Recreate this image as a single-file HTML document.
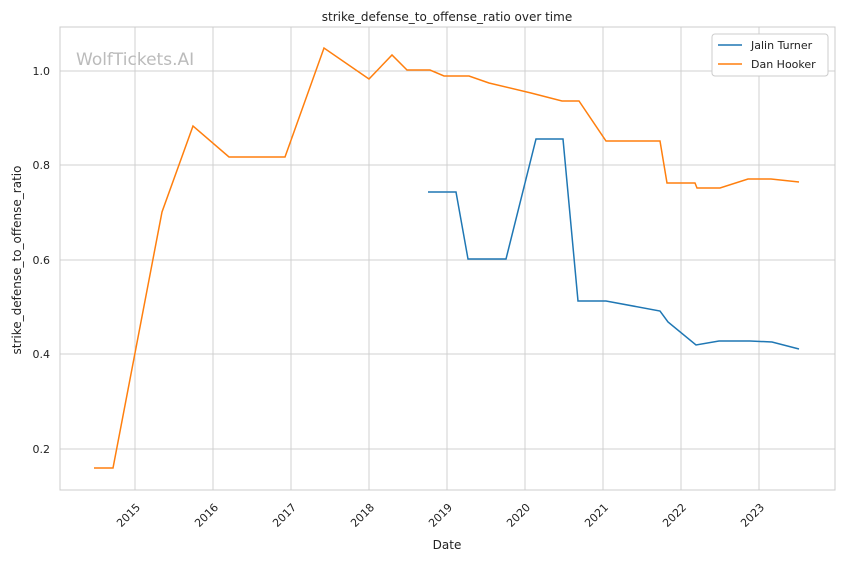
<!DOCTYPE html>
<html><head><meta charset="utf-8"><style>body{margin:0;background:#fff}svg{display:block;font-family:"DejaVu Sans","Liberation Sans",sans-serif}</style></head>
<body>
<svg width="844" height="561" viewBox="0 0 844 561">
<rect width="844" height="561" fill="#fff"/>
<g stroke="#d0d0d0" stroke-width="1">
<line x1="135" y1="27" x2="135" y2="490"/><line x1="213" y1="27" x2="213" y2="490"/><line x1="291" y1="27" x2="291" y2="490"/><line x1="369" y1="27" x2="369" y2="490"/><line x1="447" y1="27" x2="447" y2="490"/><line x1="525" y1="27" x2="525" y2="490"/><line x1="603" y1="27" x2="603" y2="490"/><line x1="681" y1="27" x2="681" y2="490"/><line x1="759" y1="27" x2="759" y2="490"/>
<line x1="60" y1="71" x2="835" y2="71"/><line x1="60" y1="165" x2="835" y2="165"/><line x1="60" y1="260" x2="835" y2="260"/><line x1="60" y1="354" x2="835" y2="354"/><line x1="60" y1="449" x2="835" y2="449"/>
</g>
<rect x="60" y="27" width="775" height="463" fill="none" stroke="#ccc" stroke-width="1"/>
<text x="76" y="65" font-size="17" fill="#bbb">WolfTickets.AI</text>
<polyline fill="none" stroke="#ff7f0e" stroke-width="1.5" points="94,468 113,468 162,212 193,126 229,157 285,157 324,48 369,79 392,55 407,70 430,70 444,76 469,76 489,83 531,93 562,101 579,101 606,141 660,141 667,183 695,183 697,188 720,188 748,179 771,179 799,182"/>
<polyline fill="none" stroke="#1f77b4" stroke-width="1.5" points="428,192 456,192 468,259 506,259 536,139 563,139 578,301 606,301 660,311 668,322 696,345 719,341 750,341 772,342 799,349"/>
<g font-size="11" fill="#222" text-anchor="end">
<text x="50" y="75">1.0</text><text x="50" y="169">0.8</text><text x="50" y="264">0.6</text><text x="50" y="358">0.4</text><text x="50" y="453">0.2</text>
</g>
<g font-size="11" fill="#222" text-anchor="end">
<text transform="translate(141,508) rotate(-45)">2015</text><text transform="translate(219,508) rotate(-45)">2016</text><text transform="translate(297,508) rotate(-45)">2017</text><text transform="translate(375,508) rotate(-45)">2018</text><text transform="translate(453,508) rotate(-45)">2019</text><text transform="translate(531,508) rotate(-45)">2020</text><text transform="translate(609,508) rotate(-45)">2021</text><text transform="translate(687,508) rotate(-45)">2022</text><text transform="translate(765,508) rotate(-45)">2023</text>
</g>
<text x="447" y="549" font-size="12" fill="#222" text-anchor="middle">Date</text>
<text transform="translate(21,260) rotate(-90)" font-size="12" fill="#222" text-anchor="middle">strike_defense_to_offense_ratio</text>
<text x="447" y="21" font-size="12" fill="#222" text-anchor="middle">strike_defense_to_offense_ratio over time</text>
<rect x="712" y="34" width="116" height="42" rx="3" fill="#fff" stroke="#ccc"/>
<line x1="718" y1="45" x2="742" y2="45" stroke="#1f77b4" stroke-width="1.5"/>
<line x1="718" y1="64" x2="742" y2="64" stroke="#ff7f0e" stroke-width="1.5"/>
<text x="751" y="49" font-size="11" fill="#222">Jalin Turner</text>
<text x="751" y="68" font-size="11" fill="#222">Dan Hooker</text>
</svg>
</body></html>
